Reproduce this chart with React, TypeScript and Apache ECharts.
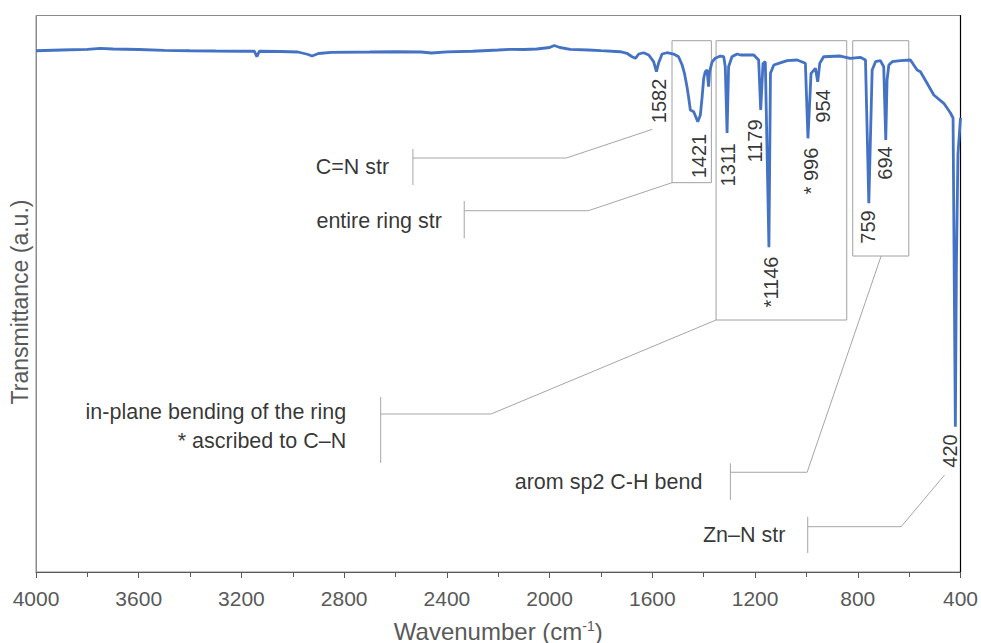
import React, { useEffect, useRef } from "react";
import * as echarts from "echarts";

// Spectrum (wavenumber in cm-1, transmittance in a.u.)
const wavenumbers = [
  4000, 3900, 3800, 3750, 3700, 3600, 3500, 3400, 3300, 3200, 3150, 3140, 3130, 3050, 2980, 2940, 2925, 2900,
  2850, 2700, 2600, 2500, 2460, 2400, 2300, 2200, 2150, 2100, 2050, 2000, 1982, 1960, 1920, 1850, 1800, 1725,
  1699, 1679, 1666, 1653, 1634, 1614, 1595, 1584, 1576, 1562, 1543, 1517, 1498, 1484, 1475, 1465, 1459, 1452,
  1439, 1423, 1413, 1406, 1400, 1394, 1387, 1381, 1377, 1367, 1355, 1335, 1322, 1316, 1309, 1303, 1290, 1270,
  1257, 1205, 1186, 1178, 1169, 1160, 1146, 1140, 1127, 1108, 1075, 1036, 1004, 994, 982, 965, 956, 948, 933,
  868, 829, 790, 770, 757, 744, 731, 712, 699, 691, 686, 679, 666, 634, 595, 569, 556, 530, 504, 465, 439, 429,
  420, 416, 410, 400,
];
const transmittance = [
  93.67, 93.8, 93.93, 94.11, 93.98, 93.89, 93.75, 93.67, 93.62, 93.58, 93.58, 92.63, 93.58, 93.53, 93.44, 92.99,
  92.72, 93.17, 93.39, 93.44, 93.49, 93.44, 93.26, 93.48, 93.58, 93.8, 93.93, 93.89, 93.98, 94.25, 94.61, 94.25,
  93.93, 93.8, 93.67, 93.49, 93.21, 92.59, 92.31, 93.08, 93.31, 92.9, 91.7, 89.9, 91.41, 93.08, 93.31, 93.08,
  92.59, 91.11, 89.61, 87.21, 85.41, 83.03, 82.71, 80.92, 82.12, 85.41, 88.72, 89.9, 90.21, 87.21, 89.9, 91.7,
  92.31, 92.72, 92.59, 90.8, 78.89, 90.8, 92.59, 93.08, 92.9, 92.9, 92.0, 83.03, 91.41, 91.7, 58.35, 89.61,
  91.11, 91.41, 91.88, 92.0, 91.41, 77.93, 89.61, 90.51, 88.1, 91.41, 92.59, 92.72, 92.31, 92.49, 92.0, 66.25,
  90.21, 91.7, 91.88, 90.8, 77.63, 88.41, 91.11, 91.7, 91.88, 92.0, 90.21, 89.9, 87.82, 85.71, 84.22, 82.48,
  81.58, 26.11, 55, 75, 81.6,
];

// Peak labels (text and anchor in data units)
const peakTexts = ["1582", "1421", "1311", "1179", "*1146", "* 996", "954", "759", "694", "420"];
const peakLabelX = [1572.7, 1416.9, 1303.9, 1198.7, 1136.4, 980.5, 934.9, 758.4, 692.2, 439];
const peakLabelY = [84.64, 74.75, 73.14, 77.45, 52.11, 72.06, 83.74, 62.0, 73.5, 21.74];

// Grouping boxes: [wn from, wn to, T top, T bottom]
const boxFrom = [1523.3, 1351.8, 819.6];
const boxTo = [1370.1, 843, 601.4];
const boxTop = [95.47, 95.47, 95.47];
const boxBottom = [69.96, 45.28, 56.78];

// Assignment callouts
const calloutTexts = [
  "C=N str",
  "entire ring str",
  "in-plane bending of the ring\n* ascribed to C\u2013N",
  "arom sp2 C-H bend",
  "Zn\u2013N str",
];
const calloutTextX = [2624.7, 2419.4, 2792.2, 1405.2, 1081.8];
const calloutTextY = [72.78, 63.07, 26.06, 16.23, 6.65];
const calloutBarX = [2532.3, 2332.5, 2657.8, 1296.1, 994.9];
const calloutBarTop = [76.01, 66.67, 31.45, 19.53, 9.94];
const calloutBarBottom = [69.54, 59.97, 19.59, 12.94, 3.41];
const calloutLineY = [74.39, 64.92, 28.39, 17.92, 8.14];
const calloutElbowX = [1935.1, 1849.4, 2228.1, 997.3, 631];
const calloutEndX = [1600, 1523.3, 1351.8, 709, 462.3];
const calloutEndY = [79.55, 69.96, 45.28, 56.78, 17.43];

const xTicks = { min: 400, max: 4000, interval: 400 };

const FONT = "'Liberation Sans', Arial, sans-serif";

export default function App() {
  const ref = useRef<HTMLDivElement>(null);

  useEffect(() => {
    if (!ref.current) return;
    const chart = echarts.init(ref.current, undefined, { renderer: "svg" });

    const spectrum = wavenumbers.map((w, i) => [w, transmittance[i]]);

    const calloutLines: any[] = [];
    calloutBarX.forEach((bx, i) => {
      calloutLines.push({ coords: [[bx, calloutBarTop[i]], [bx, calloutBarBottom[i]]] });
      calloutLines.push({
        coords: [
          [bx, calloutLineY[i]],
          [calloutElbowX[i], calloutLineY[i]],
          [calloutEndX[i], calloutEndY[i]],
        ],
      });
    });

    const boxes = boxFrom.map((f, i) => [
      { xAxis: f, yAxis: boxTop[i] },
      { xAxis: boxTo[i], yAxis: boxBottom[i] },
    ]);

    chart.setOption({
      animation: false,
      grid: {
        left: 36,
        right: 20.5,
        top: 15.5,
        bottom: 71,
        show: true,
        borderColor: "#8c8c8c",
        borderWidth: 1,
        backgroundColor: "transparent",
        containLabel: false,
        outerBoundsMode: "none",
      },
      xAxis: {
        type: "value",
        inverse: true,
        min: xTicks.min,
        max: xTicks.max,
        interval: xTicks.interval,
        name: "Wavenumber (cm{sup|-1})",
        nameLocation: "middle",
        nameGap: 47,
        nameTextStyle: {
          fontSize: 24,
          color: "#595959",
          fontFamily: FONT,
          rich: {
            sup: { fontSize: 14, color: "#595959", fontFamily: FONT, verticalAlign: "top", lineHeight: 24 },
          },
        },
        axisLine: { show: true, lineStyle: { color: "#595959", width: 1 } },
        axisTick: { show: true, length: 6, lineStyle: { color: "#595959" } },
        minorTick: { show: true, splitNumber: 2, length: 5, lineStyle: { color: "#595959" } },
        splitLine: { show: false },
        minorSplitLine: { show: false },
        axisLabel: {
          fontSize: 21,
          color: "#595959",
          fontFamily: FONT,
          margin: 16,
          showMinLabel: true,
          showMaxLabel: true,
          hideOverlap: false,
          formatter: (v: number) => String(v),
        },
      },
      yAxis: [
        {
          type: "value",
          min: 0,
          max: 100,
          axisLine: { show: true, lineStyle: { color: "#8c8c8c" } },
          axisTick: { show: false },
          axisLabel: { show: false },
          splitLine: { show: false },
        },
        {
          type: "value",
          position: "right",
          min: 0,
          max: 100,
          axisLine: { show: true, lineStyle: { color: "#000000", width: 1.2 } },
          axisTick: { show: false },
          axisLabel: { show: false },
          splitLine: { show: false },
        },
      ],
      graphic: [
        {
          type: "text",
          x: 20,
          y: 302,
          rotation: Math.PI / 2,
          style: {
            text: "Transmittance (a.u.)",
            fontSize: 23,
            fontFamily: FONT,
            fill: "#595959",
            align: "center",
            verticalAlign: "middle",
          },
        },
      ],
      series: [
        {
          type: "lines",
          coordinateSystem: "cartesian2d",
          polyline: true,
          silent: true,
          z: 1,
          lineStyle: { color: "#a6a6a6", width: 1, opacity: 1, curveness: 0 },
          data: calloutLines,
        },
        {
          type: "line",
          data: spectrum,
          showSymbol: false,
          symbol: "none",
          silent: true,
          z: 3,
          lineStyle: { color: "#4472C4", width: 2.8 },
          markArea: {
            silent: true,
            itemStyle: { color: "rgba(0,0,0,0)", borderColor: "#a0a0a0", borderWidth: 1 },
            data: boxes,
          },
        },
        {
          type: "scatter",
          silent: true,
          z: 4,
          symbolSize: 1,
          itemStyle: { color: "rgba(0,0,0,0)" },
          data: peakTexts.map((t, i) => ({ name: t, value: [peakLabelX[i], peakLabelY[i]] })),
          label: {
            show: true,
            position: "inside",
            formatter: "{b}",
            rotate: 90,
            align: "center",
            verticalAlign: "middle",
            fontSize: 20,
            color: "#000000",
            fontFamily: FONT,
          },
        },
        {
          type: "scatter",
          silent: true,
          z: 4,
          symbolSize: 1,
          itemStyle: { color: "rgba(0,0,0,0)" },
          data: calloutTexts.map((t, i) => ({ name: t, value: [calloutTextX[i], calloutTextY[i]] })),
          label: {
            show: true,
            position: "inside",
            formatter: "{b}",
            align: "right",
            verticalAlign: "middle",
            fontSize: 21.5,
            lineHeight: 29,
            color: "#000000",
            fontFamily: FONT,
          },
        },
      ],
    });

    return () => chart.dispose();
  }, []);

  return (
    <div
      ref={ref}
      style={{ position: "fixed", left: 0, top: 0, width: 981, height: 643, background: "#ffffff" }}
    />
  );
}
